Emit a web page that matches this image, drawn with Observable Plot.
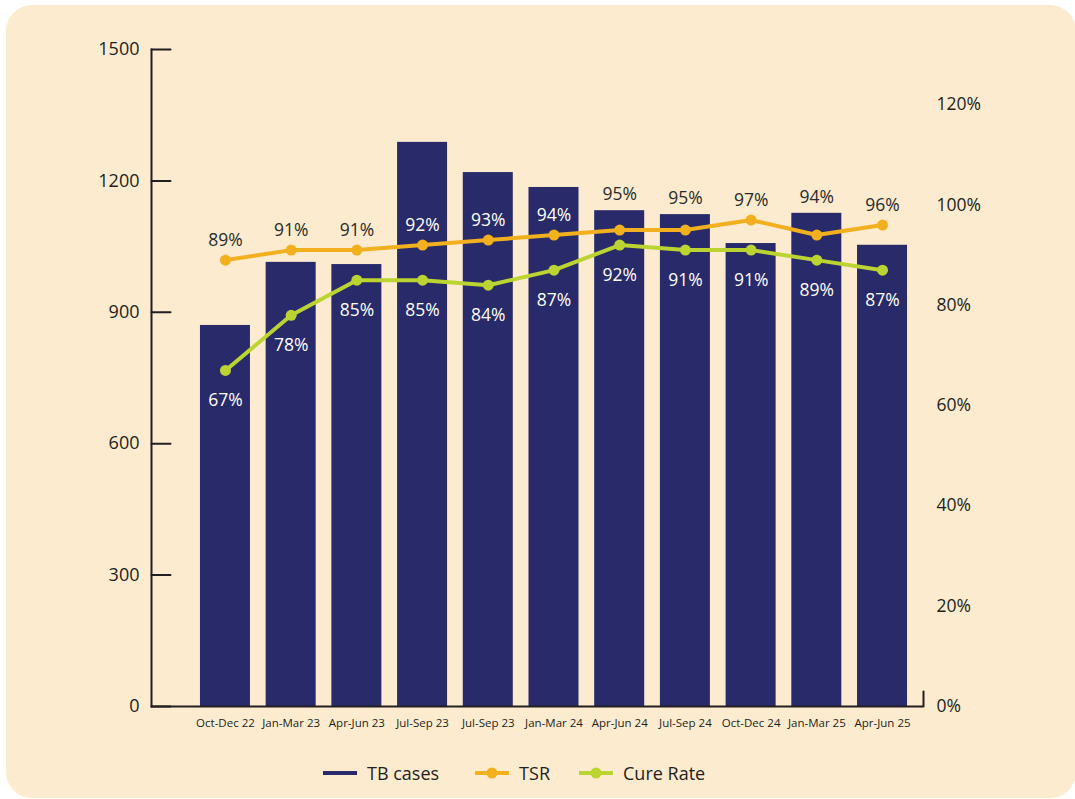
<!DOCTYPE html>
<html><head><meta charset="utf-8">
<script src="https://cdn.jsdelivr.net/npm/d3@7"></script>
<script src="https://cdn.jsdelivr.net/npm/@observablehq/plot@0.6"></script>
<style>
html,body{margin:0;padding:0;background:#fff;}
#wrap{position:relative;width:1075px;height:799px;overflow:hidden;font-family:"Open Sans",sans-serif;}
#bg{position:absolute;left:6px;top:5px;width:1070px;height:793px;border-radius:26px;background:#FCEBCE;}
#chart{position:absolute;left:0;top:0;}
#legend{position:absolute;left:323px;top:761px;display:flex;align-items:center;font-size:18px;color:#231F20;white-space:nowrap;}
#legend .item{display:flex;align-items:center;}
#legend svg{display:block;margin-right:10px;}
</style>
</head><body>
<div id="wrap"><div id="bg"></div><div id="chart"></div><div id="legend"></div></div>
<script>
const periods = ["Oct-Dec 22","Jan-Mar 23","Apr-Jun 23","Jul-Sep 23","Jul-Sep 23","Jan-Mar 24","Apr-Jun 24","Jul-Sep 24","Oct-Dec 24","Jan-Mar 25","Apr-Jun 25"];
const tbCases = [870,1014,1009,1288,1219,1185,1132,1123,1057,1126,1053];
const tsr = [89,91,91,92,93,94,95,95,97,94,96];
const cureRate = [67,78,85,85,84,87,92,91,91,89,87];
const leftTicks = [0,300,600,900,1200,1500];
const rightTicks = [0,20,40,60,80,100,120];
const seriesNames = ["TB cases","TSR","Cure Rate"];

const leftMax = 1500, rightMax = 131;
const NAVY = "#282A69", ORANGE = "#F2B01F", LIME = "#BCD432", INK = "#231F20";
const W = 1075, H = 740, mL = 151, mR = 152, mT = 49, mB = 34;
const k = leftMax / rightMax;
const upp = leftMax / (H - mT - mB);

const rows = periods.map((p, i) => ({i, period: p, cases: tbCases[i], tsr: tsr[i], cure: cureRate[i], tsrY: tsr[i] * k, cureY: cureRate[i] * k}));
rows.forEach(d => {
  let ly = d.tsrY + 20 * upp;
  if (d.cases >= ly - 10 * upp && d.cases <= ly + 10 * upp) ly = d.cases + 16 * upp;
  d.tsrLabelY = ly;
  d.tsrInside = d.cases > ly + 9 * upp;
});

const lineShape = {draw(ctx, l) { ctx.moveTo(0, 0); ctx.lineTo(0, -l); }};

const chart = Plot.plot({
  width: W, height: H, marginLeft: mL, marginRight: mR, marginTop: mT, marginBottom: mB,
  style: {background: "transparent", fontFamily: "'Open Sans', sans-serif", color: INK},
  x: {type: "band", domain: d3.range(periods.length), paddingInner: 0.239, paddingOuter: 0.494, align: 0.754, round: false},
  y: {domain: [0, leftMax]},
  marks: [
    Plot.barY(rows, {x: "i", y: "cases", fill: NAVY}),
    Plot.ruleY([0], {stroke: INK, strokeWidth: 2}),
    Plot.frame({anchor: "left", stroke: INK, strokeWidth: 2}),
    Plot.vector(leftTicks, {y: d => d, frameAnchor: "left", length: 19, rotate: 90, anchor: "start", shape: lineShape, stroke: INK, strokeWidth: 2}),
    Plot.vector([0], {y: d => d, frameAnchor: "right", length: 15, rotate: 0, anchor: "start", shape: lineShape, stroke: INK, strokeWidth: 2}),
    Plot.axisY(leftTicks, {anchor: "left", tickSize: 0, tickPadding: 12, tickFormat: d => String(d), fontSize: 18, label: null}),
    Plot.axisY(rightTicks.map(v => v * k), {anchor: "right", tickSize: 0, tickPadding: 13, tickFormat: d => Math.round(d / k) + "%", fontSize: 17.5, label: null}),
    Plot.axisX({anchor: "bottom", tickSize: 0, tickPadding: 12, tickFormat: i => periods[i], fontSize: 11.5, label: null}),
    Plot.line(rows, {x: "i", y: "tsrY", stroke: ORANGE, strokeWidth: 4}),
    Plot.dot(rows, {x: "i", y: "tsrY", r: 5.5, fill: ORANGE}),
    Plot.line(rows, {x: "i", y: "cureY", stroke: LIME, strokeWidth: 4}),
    Plot.dot(rows, {x: "i", y: "cureY", r: 5.5, fill: LIME}),
    Plot.text(rows, {x: "i", y: "tsrLabelY", text: d => d.tsr + "%", fill: d => d.tsrInside ? "#ffffff" : "#2b2b2b", fontSize: 17.5}),
    Plot.text(rows, {x: "i", y: "cureY", dy: 30, text: d => d.cure + "%", fill: "#ffffff", fontSize: 17.5})
  ]
});
document.getElementById("chart").appendChild(chart);

const legend = d3.select("#legend");
const swatchColors = [NAVY, ORANGE, LIME];
const gaps = [36, 29, 0];
seriesNames.forEach((name, i) => {
  const item = legend.append("div").attr("class", "item").style("margin-right", gaps[i] + "px");
  const s = item.append("svg").attr("width", 34).attr("height", 14);
  s.append("line").attr("x1", 0).attr("x2", 34).attr("y1", 7).attr("y2", 7).attr("stroke", swatchColors[i]).attr("stroke-width", 4);
  if (i > 0) s.append("circle").attr("cx", 17).attr("cy", 7).attr("r", 5.5).attr("fill", swatchColors[i]);
  item.append("span").text(name);
});
</script>
</body></html>
